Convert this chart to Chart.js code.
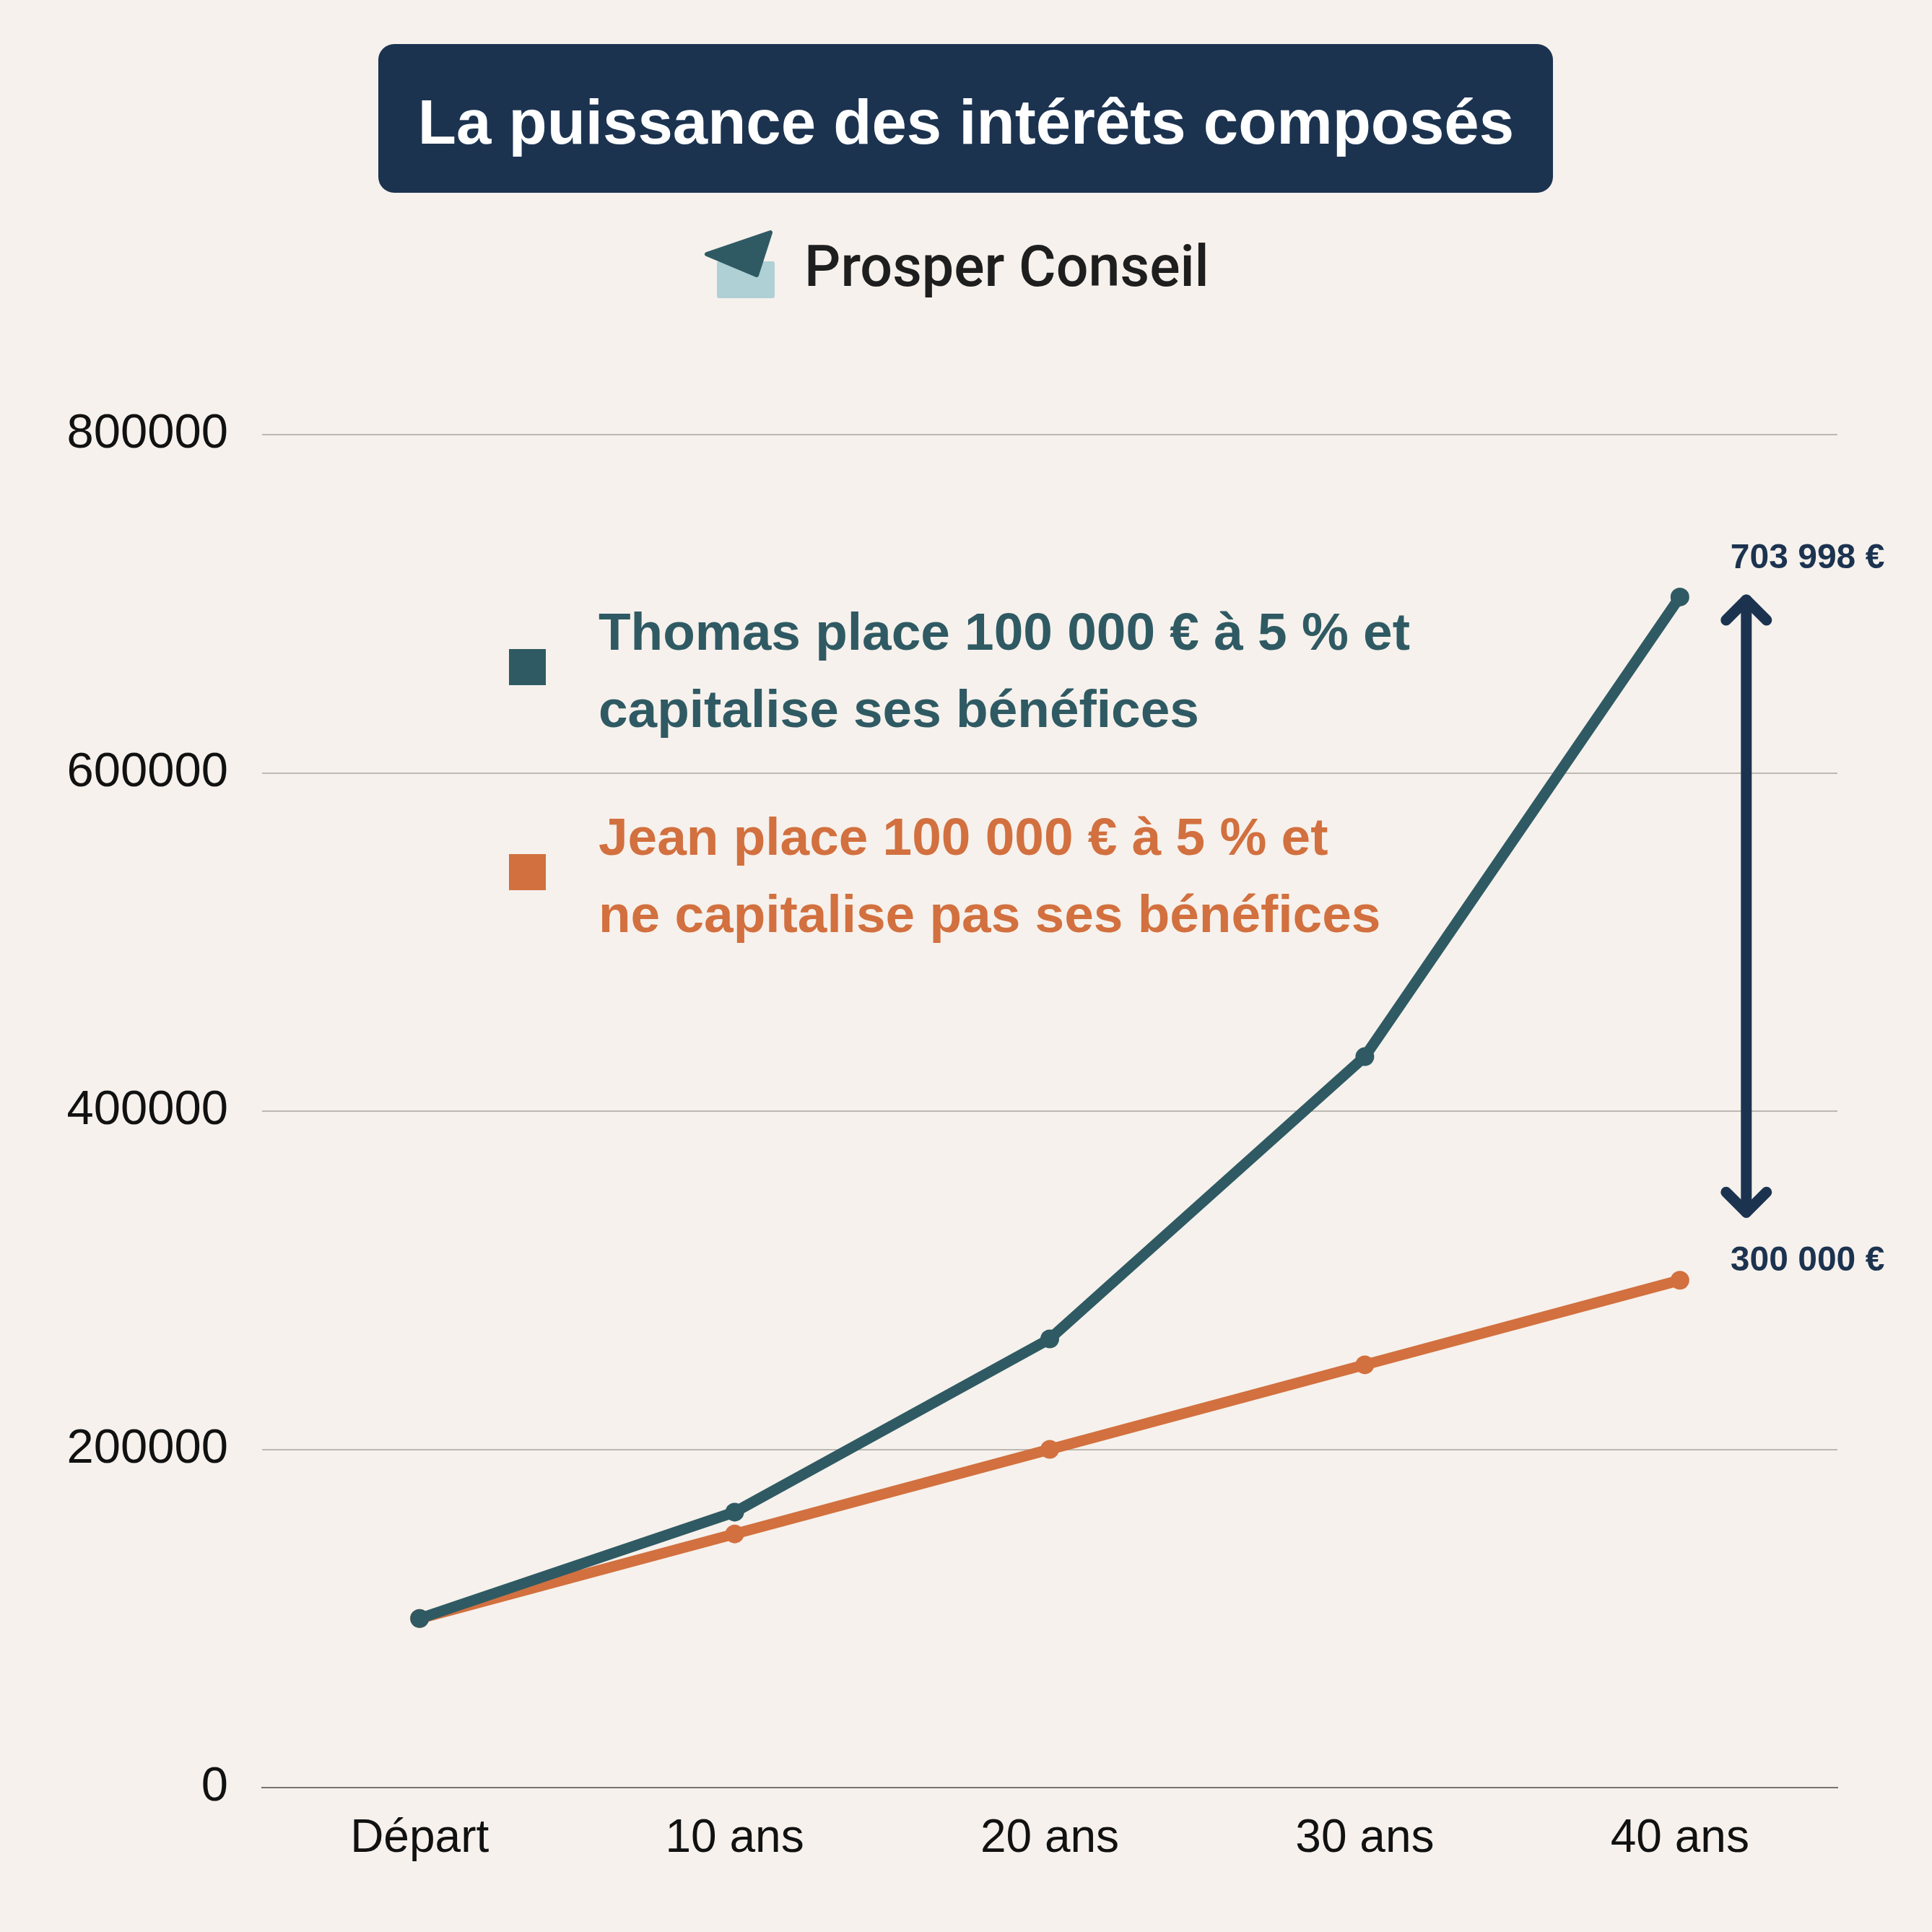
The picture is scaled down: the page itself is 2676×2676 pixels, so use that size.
<!DOCTYPE html>
<html lang="fr">
<head>
<meta charset="utf-8">
<title>La puissance des intérêts composés</title>
<script src="https://cdn.jsdelivr.net/npm/chart.js@4.4.1/dist/chart.umd.min.js"></script>
<style>
  html, body { margin: 0; padding: 0; background: #f6f1ec; }
  #chart { display: block; }
</style>
</head>
<body>
<canvas id="chart" width="2676" height="2676"></canvas>
<script>
// ── Data ─────────────────────────────────────────────────────────
const categories = ['Départ', '10 ans', '20 ans', '30 ans', '40 ans'];
const thomasValues = [100000, 162889, 265330, 432194, 703998];
const jeanValues = [100000, 150000, 200000, 250000, 300000];
const yTicks = [0, 200000, 400000, 600000, 800000];
const legendLines = [
  ['Thomas place 100 000 € à 5 % et', 'capitalise ses bénéfices'],
  ['Jean place 100 000 € à 5 % et', 'ne capitalise pas ses bénéfices']
];

const TEAL = '#2f5a63';
const ORANGE = '#d2703f';
const NAVY = '#1c3350';
const FONT = '"Liberation Sans", Arial, Helvetica, sans-serif';

const fmtEuro = v => String(v).replace(/\B(?=(\d{3})+(?!\d))/g, ' ') + ' €';

// ── Header: title box + logo ─────────────────────────────────────
const headerPlugin = {
  id: 'header',
  beforeDraw(chart) {
    const ctx = chart.ctx;
    ctx.save();
    ctx.fillStyle = '#f6f1ec';
    ctx.fillRect(0, 0, chart.width, chart.height);

    ctx.fillStyle = NAVY;
    ctx.beginPath();
    ctx.roundRect(524, 61, 1627, 206, 22);
    ctx.fill();
    ctx.fillStyle = '#ffffff';
    ctx.font = `bold 87px ${FONT}`;
    ctx.textAlign = 'center';
    ctx.textBaseline = 'alphabetic';
    ctx.fillText('La puissance des intérêts composés', 1338, 199);

    // logo
    ctx.fillStyle = '#afd0d4';
    ctx.beginPath();
    ctx.roundRect(993, 362, 80, 51, 3);
    ctx.fill();
    ctx.fillStyle = TEAL;
    ctx.strokeStyle = TEAL;
    ctx.lineJoin = 'round';
    ctx.lineWidth = 6;
    ctx.beginPath();
    ctx.moveTo(979, 352);
    ctx.lineTo(1067, 322);
    ctx.lineTo(1048, 381);
    ctx.closePath();
    ctx.fill();
    ctx.stroke();

    ctx.fillStyle = '#1e1e1e';
    ctx.font = `500 79px Roboto, ${FONT}`;
    ctx.textAlign = 'left';
    ctx.fillText('Prosper Conseil', 1114, 396);
    ctx.restore();
  }
};

// ── Legend block + end annotations ───────────────────────────────
const overlayPlugin = {
  id: 'overlay',
  afterDatasetsDraw(chart) {
    const ctx = chart.ctx;
    const xs = chart.scales.x, ys = chart.scales.y;
    ctx.save();

    // legend
    const colors = [TEAL, ORANGE];
    const baseY = [900, 1184];
    colors.forEach((c, i) => {
      ctx.fillStyle = c;
      ctx.fillRect(705, baseY[i] - 1, 51, 50);
      ctx.font = `bold 73px ${FONT}`;
      ctx.textAlign = 'left';
      ctx.textBaseline = 'alphabetic';
      ctx.fillText(legendLines[i][0], 829, baseY[i]);
      ctx.fillText(legendLines[i][1], 829, baseY[i] + 107);
    });

    // arrow between the two final values
    const last = categories.length - 1;
    const px = xs.getPixelForValue(last);
    const ax = px + 92;
    const yTop = ys.getPixelForValue(thomasValues[last]);
    const yBot = ys.getPixelForValue(jeanValues[last]) - 90;
    ctx.strokeStyle = NAVY;
    ctx.lineWidth = 15;
    ctx.lineCap = 'round';
    ctx.lineJoin = 'round';
    ctx.beginPath();
    ctx.moveTo(ax, yTop + 4);
    ctx.lineTo(ax, yBot - 4);
    ctx.stroke();
    ctx.beginPath();
    ctx.moveTo(ax - 28, yTop + 32);
    ctx.lineTo(ax, yTop + 4);
    ctx.lineTo(ax + 28, yTop + 32);
    ctx.stroke();
    ctx.beginPath();
    ctx.moveTo(ax - 28, yBot - 32);
    ctx.lineTo(ax, yBot - 4);
    ctx.lineTo(ax + 28, yBot - 32);
    ctx.stroke();

    ctx.fillStyle = NAVY;
    ctx.font = `bold 48px ${FONT}`;
    ctx.textAlign = 'left';
    ctx.fillText(fmtEuro(thomasValues[last]), px + 70, yTop - 40);
    ctx.fillText(fmtEuro(jeanValues[last]), px + 70, ys.getPixelForValue(jeanValues[last]) - 13);
    ctx.restore();
  }
};

Chart.defaults.font.family = FONT;
Chart.defaults.color = '#111111';

new Chart(document.getElementById('chart'), {
  type: 'line',
  data: {
    labels: categories,
    datasets: [
      { label: 'Thomas', data: thomasValues, borderColor: TEAL, backgroundColor: TEAL,
        borderWidth: 15, pointRadius: 13, pointBorderWidth: 0, pointBackgroundColor: TEAL, tension: 0 },
      { label: 'Jean', data: jeanValues, borderColor: ORANGE, backgroundColor: ORANGE,
        borderWidth: 15, pointRadius: 13, pointBorderWidth: 0, pointBackgroundColor: ORANGE, tension: 0 }
    ]
  },
  options: {
    responsive: false,
    animation: false,
    devicePixelRatio: 1,
    layout: { padding: { top: 602, right: 131, left: 0, bottom: 0 } },
    plugins: { legend: { display: false }, tooltip: { enabled: false } },
    scales: {
      x: {
        offset: true,
        grid: { display: false },
        border: { display: true, color: '#77736e', width: 2 },
        ticks: { font: { size: 64 }, color: '#111111', padding: 25 },
        afterFit: s => { s.height = 200; }
      },
      y: {
        min: 0, max: 800000,
        afterBuildTicks: s => { s.ticks = yTicks.map(v => ({ value: v })); },
        grid: { color: '#bdb8b1', lineWidth: 2, drawTicks: false },
        border: { display: false },
        ticks: { font: { size: 67 }, color: '#111111', padding: 47, callback: v => String(v) },
        afterFit: s => { s.width = 363; }
      }
    }
  },
  plugins: [headerPlugin, overlayPlugin]
});
</script>
</body>
</html>
